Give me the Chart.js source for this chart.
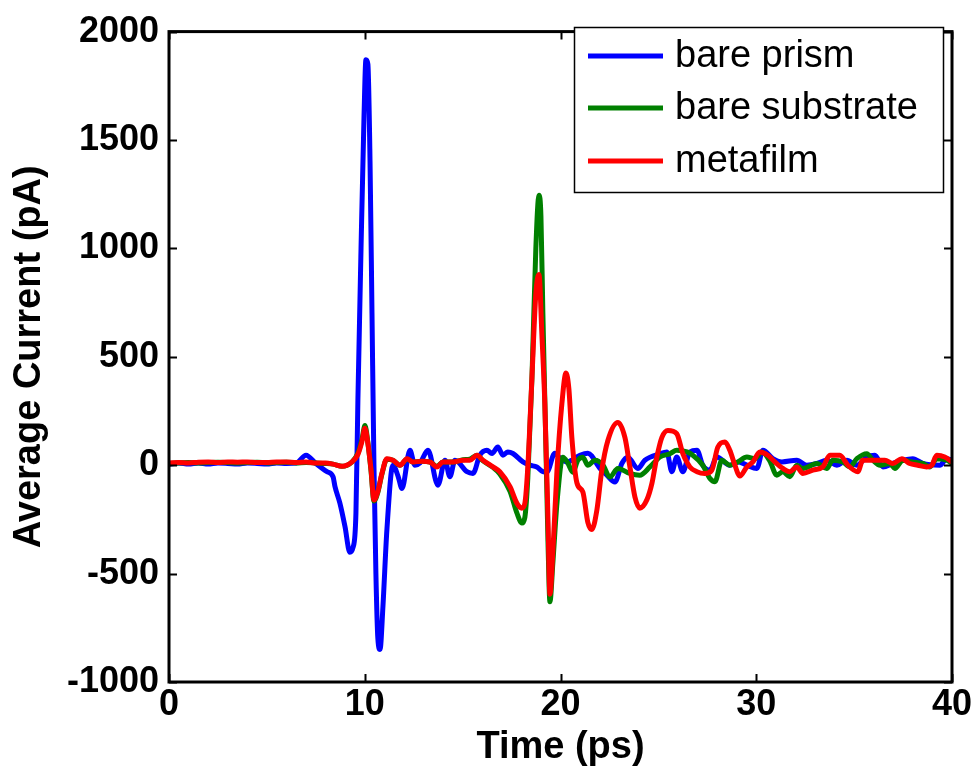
<!DOCTYPE html>
<html>
<head>
<meta charset="utf-8">
<script src="https://cdn.jsdelivr.net/npm/chart.js@4.4.1/dist/chart.umd.min.js"></script>
<style>
  html, body { margin: 0; padding: 0; background: #fff; }
  #c { display: block; }
</style>
</head>
<body>
<canvas id="c" width="978" height="780"></canvas>
<script>
// ---- Data (time in ps, current in pA) ----
const seriesLabels = ['bare prism', 'bare substrate', 'metafilm'];
const seriesColors = ['#0000FF', '#008000', '#FF0000'];
const xTicks = [0, 10, 20, 30, 40];
const yTicks = [-1000, -500, 0, 500, 1000, 1500, 2000];

const barePrism = [
  [0,5],[0.5,10],[1,5],[1.5,10],[2,5],[2.5,10],[3,8],[3.5,5],[4,10],[4.5,8],[5,5],[5.5,10],[6,8],[6.5,10],
  [7.0,46],[7.5,8],[8.07,-30],[8.38,-53],[8.48,-99],[8.73,-175],[8.99,-283],[9.24,-402],[9.40,-380],[9.55,-220],
  [9.65,300],[9.81,1000],[9.96,1600],[10.06,1870],[10.16,1850],[10.27,1400],[10.37,700],[10.47,0],[10.57,-500],
  [10.67,-800],[10.78,-850],[10.93,-650],[11.13,-300],[11.44,0],[11.70,-50],[11.90,-107],[12.31,69],[12.56,0],
  [12.82,10],[13.23,69],[13.74,-92],[14.10,23],[14.35,-53],[14.61,23],[15.22,-30],[15.53,-38],[15.88,46],
  [16.24,69],[16.50,54],[16.80,84],[17.06,46],[17.31,61],[17.57,54],[18.08,15],[18.44,0],[18.79,-8],[19.10,-30],
  [19.30,-32],[19.71,55],[20.0,30],[20.33,15],[20.99,46],[21.40,55],[22.01,-14],[22.37,-46],[22.78,-78],[23.14,9],
  [23.44,37],[23.95,-15],[24.31,23],[25.08,53],[25.43,61],[25.69,-30],[25.94,38],[26.25,-30],[26.61,61],[26.97,69],
  [27.27,0],[27.63,-23],[27.99,38],[28.65,0],[29.1,15],[29.52,0],[30.03,-15],[30.34,69],[30.85,30],[31.31,15],
  [32.07,23],[32.58,0],[33.10,8],[33.60,23],[34.12,0],[34.63,23],[35.14,0],[35.65,38],[36.06,46],[36.47,-8],
  [36.98,8],[37.49,23],[38.00,30],[38.51,8],[39.38,0],[39.73,30],[40,23]
];

const bareSubstrate = [
  [0,8],[0.5,10],[1,12],[1.5,10],[2,12],[2.5,14],[3,12],[3.5,10],[4,12],[4.5,14],[5,10],[5.5,12],[6,14],[6.5,10],
  [7,12],[7.5,10],[8.0,8],[8.38,5],[8.84,-5],[9.35,15],[9.65,55],[9.86,120],[10.01,183],[10.16,105],[10.32,-25],
  [10.47,-165],[10.67,-125],[10.88,-40],[11.13,28],[11.44,23],[11.80,0],[12.16,28],[12.46,15],[12.9,18],[13.33,15],
  [13.69,-5],[13.99,15],[14.5,15],[15.02,25],[15.37,28],[15.73,46],[16.04,20],[16.55,-10],[16.90,-40],[17.42,-120],
  [17.77,-220],[18.03,-267],[18.18,-240],[18.33,-60],[18.54,400],[18.74,1000],[18.90,1245],[19.00,1150],[19.10,700],
  [19.25,100],[19.36,-350],[19.46,-630],[19.61,-450],[19.82,-174],[20.12,37],[20.38,9],[20.63,-32],[20.89,23],
  [21.14,37],[21.40,0],[21.76,23],[22.17,0],[22.52,-55],[22.93,-15],[23.54,-38],[24.05,-46],[24.57,-8],[25.08,38],
  [25.59,53],[25.94,69],[26.46,61],[26.76,46],[27.27,0],[27.63,-61],[27.89,-76],[28.24,23],[28.65,0],[29.06,15],
  [29.52,38],[29.93,30],[30.29,61],[30.69,20],[31.05,-46],[31.36,-30],[31.72,-53],[32.07,0],[32.38,-15],[33.10,8],
  [33.60,-15],[33.91,23],[34.42,15],[34.78,-8],[35.14,30],[35.65,53],[35.96,23],[36.32,0],[36.82,8],[37.08,-15],
  [37.49,23],[37.95,15],[38.51,8],[38.87,-8],[39.22,30],[39.73,23],[40,8]
];

const metafilm = [
  [0,10],[0.5,12],[1,10],[1.5,14],[2,15],[2.5,12],[3,15],[3.5,14],[4,15],[4.5,12],[5,12],[5.5,15],[6,15],[6.5,12],
  [7,15],[7.5,10],[8.0,10],[8.38,5],[8.84,-5],[9.35,15],[9.65,50],[9.86,110],[10.01,170],[10.16,100],[10.32,-20],
  [10.47,-160],[10.67,-120],[10.88,-37],[11.13,30],[11.44,23],[11.80,0],[12.16,30],[12.46,15],[12.9,18],[13.33,15],
  [13.69,-8],[13.99,15],[14.5,15],[15.02,23],[15.37,23],[15.73,46],[16.04,23],[16.55,-8],[16.90,-30],[17.42,-99],
  [17.77,-175],[18.03,-198],[18.18,-175],[18.33,-8],[18.54,400],[18.74,790],[18.90,880],[19.05,600],[19.20,283],
  [19.36,-250],[19.46,-595],[19.61,-400],[19.82,-23],[20.07,283],[20.28,425],[20.43,350],[20.58,128],[20.84,-82],
  [21.14,-123],[21.40,-265],[21.60,-297],[21.86,-206],[22.11,-23],[22.42,114],[22.93,197],[23.29,128],[23.54,-5],
  [23.80,-146],[24.05,-198],[24.41,-160],[24.67,-84],[24.92,37],[25.18,128],[25.49,160],[25.94,145],[26.25,53],
  [26.61,-8],[26.97,-30],[27.37,-38],[27.73,-23],[28.04,84],[28.40,107],[28.65,69],[28.91,0],[29.16,-50],[29.52,-8],
  [29.83,15],[30.18,61],[30.59,46],[30.95,15],[31.36,-15],[31.72,-30],[32.07,-8],[32.38,-38],[32.89,-23],[33.40,-8],
  [33.76,46],[34.27,46],[34.68,0],[35.19,-30],[35.44,23],[36.06,23],[36.57,23],[36.98,8],[37.44,30],[37.84,8],
  [38.25,0],[38.71,-8],[38.97,0],[39.22,46],[39.63,38],[40,15]
];

const seriesData = [barePrism, bareSubstrate, metafilm];

// ---- Chart ----
const FONT = "'Liberation Sans', Arial, Helvetica, sans-serif";
Chart.defaults.font.family = FONT;
Chart.defaults.color = '#000';

const toPoints = arr => arr.map(p => ({ x: p[0], y: p[1] }));

// red drawn on top, then green, then blue underneath
const drawOrder = [2, 1, 0];

const datasets = seriesData.map((s, i) => ({
  label: seriesLabels[i],
  data: toPoints(s),
  borderColor: seriesColors[i],
  backgroundColor: seriesColors[i],
  borderWidth: 5,
  pointRadius: 0,
  fill: false,
  cubicInterpolationMode: 'monotone',
  order: drawOrder[i],
  borderJoinStyle: 'round',
  borderCapStyle: 'round'
}));

const framePlugin = {
  id: 'frameTicks',
  afterDatasetsDraw(chart) {
    const { ctx, chartArea: a, scales } = chart;
    ctx.save();
    ctx.strokeStyle = '#000';
    ctx.lineWidth = 2;
    const tl = 8;
    scales.x.ticks.forEach(t => {
      const px = Math.round(scales.x.getPixelForValue(t.value)) + 0.5;
      ctx.beginPath();
      ctx.moveTo(px, a.bottom); ctx.lineTo(px, a.bottom - tl);
      ctx.moveTo(px, a.top); ctx.lineTo(px, a.top + tl);
      ctx.stroke();
    });
    scales.y.ticks.forEach(t => {
      const py = Math.round(scales.y.getPixelForValue(t.value)) + 0.5;
      ctx.beginPath();
      ctx.moveTo(a.left, py); ctx.lineTo(a.left + tl, py);
      ctx.moveTo(a.right, py); ctx.lineTo(a.right - tl, py);
      ctx.stroke();
    });
    ctx.lineWidth = 3;
    ctx.strokeRect(a.left, a.top, a.right - a.left, a.bottom - a.top);

    // legend box (inside, north-east)
    const bx = 574, by = 27, bw = 369, bh = 165;
    ctx.fillStyle = '#fff';
    ctx.fillRect(bx, by, bw, bh);
    ctx.lineWidth = 1.5;
    ctx.strokeRect(bx + 0.5, by + 0.5, bw, bh);
    ctx.font = "38px " + FONT;
    ctx.textBaseline = 'middle';
    ctx.textAlign = 'left';
    const rows = [56, 108, 161];
    seriesLabels.forEach((lab, i) => {
      ctx.strokeStyle = seriesColors[i];
      ctx.lineWidth = 5;
      ctx.beginPath();
      ctx.moveTo(588, rows[i]); ctx.lineTo(663, rows[i]);
      ctx.stroke();
      ctx.fillStyle = '#000';
      ctx.fillText(lab, 675, rows[i] + 1);
    });
    ctx.restore();
  }
};

new Chart(document.getElementById('c'), {
  type: 'line',
  data: { datasets },
  options: {
    responsive: false,
    animation: false,
    devicePixelRatio: 1,
    layout: { padding: { top: 25, right: 26, left: 0, bottom: 0 } },
    plugins: { legend: { display: false }, tooltip: { enabled: false } },
    scales: {
      x: {
        type: 'linear',
        min: 0, max: 40,
        afterBuildTicks(scale) { scale.ticks = xTicks.map(v => ({ value: v })); },
        ticks: { font: { size: 36, weight: 'bold' }, color: '#000', padding: 1, maxRotation: 0, autoSkip: false,
                 callback: v => String(v) },
        grid: { display: false, drawTicks: false },
        border: { display: false },
        title: { display: true, text: 'Time (ps)', color: '#000', font: { size: 38, weight: 'bold' }, padding: { top: 0, bottom: 10 } },
        afterFit(scale) { scale.height = 98; }
      },
      y: {
        type: 'linear',
        min: -1000, max: 2000,
        afterBuildTicks(scale) { scale.ticks = yTicks.map(v => ({ value: v })); },
        ticks: { font: { size: 36, weight: 'bold' }, color: '#000', padding: 10, autoSkip: false,
                 callback: v => String(v) },
        grid: { display: false, drawTicks: false },
        border: { display: false },
        title: { display: true, text: 'Average Current (pA)', color: '#000', font: { size: 38, weight: 'bold' }, padding: { top: 7, bottom: 0 } },
        afterFit(scale) { scale.width = 169; }
      }
    }
  },
  plugins: [framePlugin]
});
</script>
</body>
</html>
